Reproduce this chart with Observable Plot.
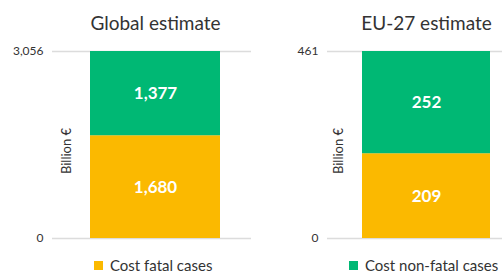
<!DOCTYPE html>
<html>
<head>
<meta charset="utf-8">
<script src="https://cdn.jsdelivr.net/npm/d3@7"></script>
<script src="https://cdn.jsdelivr.net/npm/@observablehq/plot@0.6"></script>
<style>
  body { margin: 0; background: #fff; font-family: Lato, "Open Sans", sans-serif; }
  #wrap { position: relative; width: 502px; height: 273px; overflow: hidden; }
  #row { display: flex; }
  .leg { position: absolute; top: 258px; height: 15px; line-height: 15px; display: flex; align-items: center; font-size: 15px; color: #333; white-space: nowrap; }
  .sw { width: 9px; height: 9px; margin-right: 7px; }
</style>
</head>
<body>
<div id="wrap"><div id="row"></div></div>
<script>
const panelTitles = ["Global estimate", "EU-27 estimate"];
const categories = ["Cost fatal cases", "Cost non-fatal cases"];
const globalValues = [1680, 1377];
const euValues = [209, 252];
const globalTicks = [0, 3056];
const euTicks = [0, 461];
const colors = ["#fbb900", "#00b874"];
const yLabel = "Billion €";

const fmt = d3.format(",");

function panel(title, values, ticks, ml, po, align, labelDx) {
  const data = categories.map((c, i) => ({group: title, category: c, value: values[i]}));
  const total = d3.sum(values);
  return Plot.plot({
    width: 251, height: 250,
    marginTop: 51, marginBottom: 12, marginLeft: ml, marginRight: 0,
    style: {fontFamily: "Lato, 'Open Sans', sans-serif", fontSize: "12px", color: "#333", background: "white"},
    x: {domain: [title], axis: null, paddingInner: 0, paddingOuter: po, align},
    y: {domain: [0, total], ticks, tickFormat: d => fmt(d), tickSize: 0, tickPadding: 9, label: null},
    color: {domain: categories, range: colors},
    marks: [
      Plot.ruleY(ticks, {stroke: "#dcdcdc", strokeWidth: 1.5}),
      Plot.barY(data, Plot.stackY({x: "group", y: "value", fill: "category"})),
      Plot.text(data, Plot.stackY({x: "group", y: "value", text: d => fmt(d.value), fill: "white", fontWeight: "bold", fontSize: 17})),
      Plot.text([yLabel], {frameAnchor: "left", rotate: -90, dx: labelDx, dy: 6, textAnchor: "middle", fontSize: 13, fill: "#333"}),
      Plot.text([title], {x: () => title, frameAnchor: "top", lineAnchor: "middle", dy: -28, fontSize: 19, fill: "#333"})
    ]
  });
}

const row = document.getElementById("row");
row.append(panel(panelTitles[0], globalValues, globalTicks, 52, 0.265, 0.55, 14));
row.append(panel(panelTitles[1], euValues, euTicks, 76, 0.18, 0.74, 11));

const wrap = document.getElementById("wrap");
const legendLeft = [94, 349];
categories.forEach((c, i) => {
  const item = document.createElement("div");
  item.className = "leg";
  item.style.left = legendLeft[i] + "px";
  const sw = document.createElement("span");
  sw.className = "sw";
  sw.style.background = colors[i];
  const t = document.createElement("span");
  t.textContent = c;
  item.append(sw, t);
  wrap.append(item);
});
</script>
</body>
</html>
